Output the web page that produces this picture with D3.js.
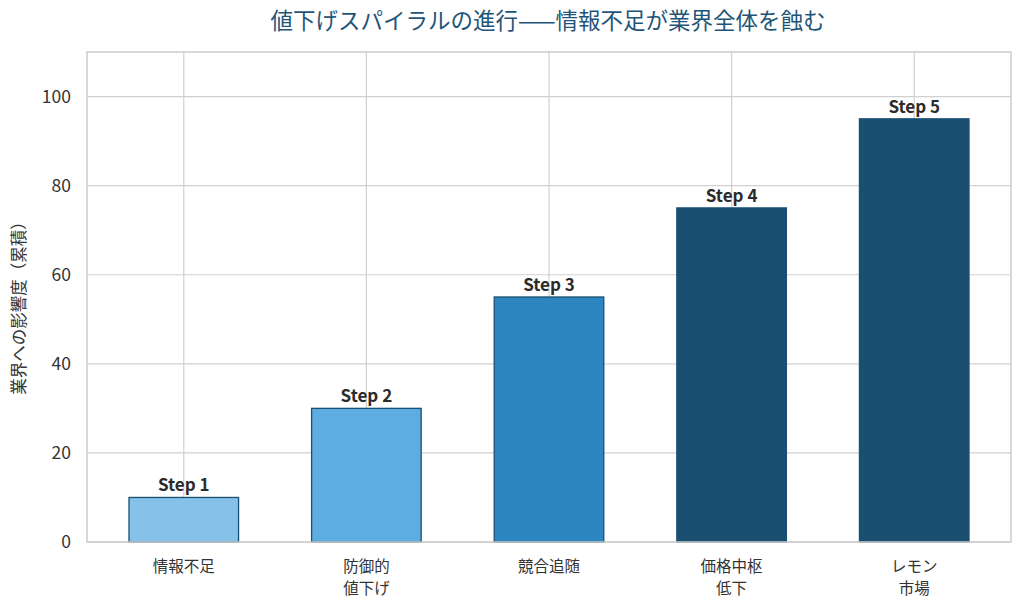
<!DOCTYPE html>
<html>
<head>
<meta charset="utf-8">
<script src="https://cdn.jsdelivr.net/npm/d3@7"></script>
<style>
  body { margin: 0; background: #fff; }
  text { font-family: "Noto Sans CJK JP", "Noto Sans", sans-serif; }
</style>
</head>
<body>
<div id="chart"></div>
<script>
// data
var categories = [["情報不足"], ["防御的", "値下げ"], ["競合追随"], ["価格中枢", "低下"], ["レモン", "市場"]];
var values = [10, 30, 55, 75, 95];
var stepLabels = ["Step 1", "Step 2", "Step 3", "Step 4", "Step 5"];
var barColors = ["#85C1E9", "#5DADE2", "#2E86C1", "#1B4F72", "#1B4F72"];
var yTicks = [0, 20, 40, 60, 80, 100];

var W = 1024, H = 607;
var margin = {top: 52, right: 13, bottom: 65, left: 87},
    width = W - margin.left - margin.right,
    height = H - margin.top - margin.bottom;

var svg = d3.select("#chart").append("svg")
    .attr("width", W).attr("height", H);

// title
svg.append("text")
    .attr("x", 548)
    .attr("y", 29)
    .attr("text-anchor", "middle")
    .style("font-size", "22.5px")
    .style("fill", "#1F5578")
    .text("値下げスパイラルの進行——情報不足が業界全体を蝕む");

var g = svg.append("g")
    .attr("transform", "translate(" + margin.left + "," + margin.top + ")");

// bar width 0.6 plus 5% margins on each side
var x = d3.scaleLinear().domain([-0.53, categories.length - 1 + 0.53]).range([0, width]);
var y = d3.scaleLinear().domain([0, 110]).range([height, 0]);
var bw = x(0.6) - x(0);

// grid
g.selectAll(".hgrid").data(yTicks).enter().append("line")
    .attr("x1", 0).attr("x2", width)
    .attr("y1", function(d) { return y(d); }).attr("y2", function(d) { return y(d); })
    .style("stroke", "#d0d0d0").style("stroke-width", 1.2);
g.selectAll(".vgrid").data(values).enter().append("line")
    .attr("x1", function(d, i) { return x(i); }).attr("x2", function(d, i) { return x(i); })
    .attr("y1", 0).attr("y2", height)
    .style("stroke", "#d0d0d0").style("stroke-width", 1.2);

// bars
g.selectAll("rect.bar").data(values).enter().append("rect")
    .attr("class", "bar")
    .attr("x", function(d, i) { return x(i) - bw / 2; })
    .attr("y", function(d) { return y(d); })
    .attr("width", bw)
    .attr("height", function(d) { return height - y(d); })
    .style("fill", function(d, i) { return barColors[i]; })
    .style("stroke", "#1B4F72")
    .style("stroke-width", 1.3);

// step labels
g.selectAll("text.step").data(values).enter().append("text")
    .attr("x", function(d, i) { return x(i); })
    .attr("y", function(d) { return y(d) - 6; })
    .attr("text-anchor", "middle")
    .style("font-size", "17px")
    .style("font-weight", "bold")
    .style("fill", "#2b2b2b")
    .text(function(d, i) { return stepLabels[i]; });

// frame
g.append("rect")
    .attr("width", width).attr("height", height)
    .style("fill", "none").style("stroke", "#cccccc").style("stroke-width", 1.5);

// y axis
var yAxis = d3.axisLeft(y).tickValues(yTicks).tickSize(0).tickPadding(16);
g.append("g").call(yAxis)
    .call(function(s) { s.select(".domain").remove(); })
    .selectAll("text")
    .style("font-size", "17.5px")
    .style("fill", "#333")
    .style("font-family", "'Noto Sans CJK JP', sans-serif");

// x labels, one text per line
categories.forEach(function(lines, i) {
    lines.forEach(function(line, j) {
        g.append("text")
            .attr("x", x(i))
            .attr("y", height + 30 + j * 22)
            .attr("text-anchor", "middle")
            .style("font-size", "15.5px")
            .style("fill", "#333")
            .text(line);
    });
});

// y label
svg.append("text")
    .attr("transform", "rotate(-90)")
    .attr("x", -304)
    .attr("y", 25)
    .attr("text-anchor", "middle")
    .style("font-size", "16.5px")
    .style("fill", "#333")
    .text("業界への影響度（累積）");
</script>
</body>
</html>
